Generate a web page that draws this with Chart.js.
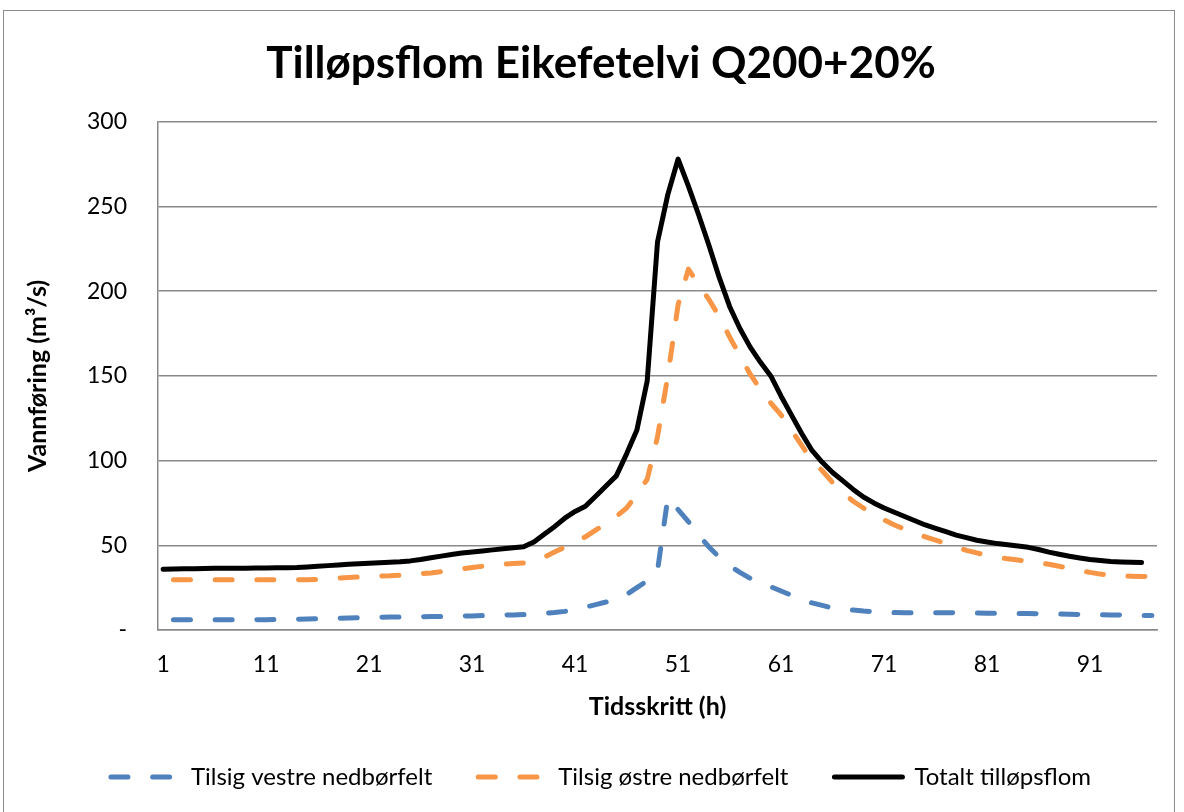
<!DOCTYPE html>
<html>
<head>
<meta charset="utf-8">
<script src="https://cdn.jsdelivr.net/npm/chart.js@4.4.1/dist/chart.umd.min.js"></script>
<style>
  html, body { margin: 0; padding: 0; background: #fff; overflow: hidden; }
  #frame { position: absolute; left: 3px; top: 10px; width: 1170px; height: 830px; border: 1.5px solid #8c8c8c; }
  #wrap { position: absolute; left: 0; top: 0; }
</style>
</head>
<body>
<div id="frame"></div>
<div id="wrap"><canvas id="flomChart" width="1184" height="799"></canvas></div>
<script>
// Tidsskritt (h)
const steps = [
  1, 2, 3, 4, 5, 6, 7, 8, 9, 10, 11, 12, 13, 14, 15, 16, 17, 18, 19, 20,
  21, 22, 23, 24, 25, 26, 27, 28, 29, 30, 31, 32, 33, 34, 35, 36, 37, 38, 39, 40,
  41, 42, 43, 44, 45, 46, 47, 48, 49, 50, 51, 52, 53, 54, 55, 56, 57, 58, 59, 60,
  61, 62, 63, 64, 65, 66, 67, 68, 69, 70, 71, 72, 73, 74, 75, 76, 77, 78, 79, 80,
  81, 82, 83, 84, 85, 86, 87, 88, 89, 90, 91, 92, 93, 94, 95, 96, 97
];

// Tilsig vestre nedbørfelt (m3/s)
const vestre = [
  null, 6.0, 6.0, 6.0, 6.0, 6.0, 6.0, 6.0, 6.0, 6.0,
  6.1, 6.2, 6.3, 6.4, 6.5, 6.6, 6.8, 6.9, 7.1, 7.2,
  7.4, 7.5, 7.7, 7.7, 7.8, 7.8, 7.9, 8.0, 8.1, 8.2,
  8.3, 8.5, 8.6, 8.8, 8.9, 9.1, 9.4, 9.8, 10.3, 11.0,
  12.0, 13.5, 15.0, 16.5, 18.5, 21, 25, 29, 35, 78,
  71, 64, 56, 49, 43, 38, 34, 30.5, 28, 25.5,
  23, 20.5, 18, 16, 14.5, 13, 12.3, 11.8, 11.2, 10.8,
  10.5, 10.3, 10.2, 10.2, 10.2, 10.2, 10.2, 10.1, 10.0, 10.0,
  9.9, 9.9, 9.8, 9.8, 9.7, 9.6, 9.5, 9.4, 9.3, 9.2,
  9.1, 9.0, 8.9, 8.8, 8.7, 8.6, 8.5
];

// Tilsig østre nedbørfelt (m3/s)
const ostre = [
  null, 29.6, 29.6, 29.6, 29.6, 29.6, 29.6, 29.6, 29.6, 29.6,
  29.6, 29.6, 29.6, 29.6, 29.7, 29.9, 30.2, 30.6, 31.0, 31.3,
  31.6, 31.8, 32.0, 32.4, 32.8, 33.2, 33.7, 34.5, 35.3, 36.1,
  36.9, 37.6, 38.2, 38.8, 39.3, 39.6, 40.5, 43, 46, 49,
  52, 55, 59, 63, 67, 72, 80, 89, 114, 150,
  192, 213, 204, 195, 185, 173, 162, 151, 142, 134,
  127, 118, 109, 100, 94, 87, 81, 76, 72, 68,
  65, 62, 59.5, 57, 55, 53, 51, 49, 47, 45.5,
  44, 43, 42, 41.3, 40.5, 39.7, 38.8, 37.6, 36.4, 35.2,
  34, 33, 32.3, 32.0, 31.8, 31.6, 31.5
];

// Totalt tilløpsflom (m3/s)
const totalt = [
  35.8, 36.0, 36.1, 36.2, 36.3, 36.4, 36.4, 36.5, 36.5, 36.6,
  36.6, 36.7, 36.8, 36.9, 37.2, 37.6, 38.0, 38.4, 38.8, 39.1,
  39.4, 39.7, 40.0, 40.3, 40.8, 41.6, 42.6, 43.6, 44.6, 45.4,
  46.1, 46.7, 47.3, 47.9, 48.5, 49.1, 52, 56.5, 61, 66,
  70, 73, 79, 85, 91, 104, 118, 147, 229, 257,
  278, 262, 245, 227, 208, 191, 178, 167, 158, 150,
  138, 127, 116, 106, 99, 93, 88, 83, 78.5, 75,
  72, 69.5, 67, 64.5, 62, 60, 58, 56, 54.5, 53,
  52, 51, 50.3, 49.6, 48.8, 47.5, 46, 44.7, 43.5, 42.5,
  41.6, 41, 40.5, 40.2, 40, 39.8, null
];

const yTicks = [0, 50, 100, 150, 200, 250, 300];

const GRID = '#898989';
const FONT = 'Lato, "Open Sans", sans-serif';
Chart.defaults.font.family = FONT;
Chart.defaults.color = '#000';

// legend samples keep the dashed line style of their dataset
const legendLabels = chart =>
  Chart.defaults.plugins.legend.labels.generateLabels(chart).map((it, i) => ({
    ...it,
    lineDash: chart.data.datasets[i].borderDash || [],
    lineCap: 'round',
  }));

new Chart(document.getElementById('flomChart'), {
  type: 'line',
  data: {
    labels: steps,
    datasets: [
      {
        label: 'Tilsig vestre nedbørfelt', data: vestre,
        borderColor: '#4F81BD', backgroundColor: '#4F81BD',
        borderWidth: 5, borderDash: [17, 24.7], borderCapStyle: 'round', borderJoinStyle: 'round',
        pointRadius: 0, tension: 0,
      },
      {
        label: 'Tilsig østre nedbørfelt', data: ostre,
        borderColor: '#F79646', backgroundColor: '#F79646',
        borderWidth: 5, borderDash: [17, 24.7], borderCapStyle: 'round', borderJoinStyle: 'round',
        pointRadius: 0, tension: 0,
      },
      {
        label: 'Totalt tilløpsflom', data: totalt,
        borderColor: '#000', backgroundColor: '#000',
        borderWidth: 5, borderCapStyle: 'round', borderJoinStyle: 'round',
        pointRadius: 0, tension: 0,
      },
    ],
  },
  options: {
    responsive: false,
    animation: false,
    devicePixelRatio: 1,
    layout: { padding: { left: 45, right: 27, top: 0, bottom: 0 } },
    plugins: {
      title: {
        display: true,
        text: 'Tilløpsflom Eikefetelvi Q200+20%',
        color: '#000',
        font: { size: 44, weight: 'bold' },
        padding: { top: 37, bottom: 32 },
      },
      legend: {
        position: 'bottom',
        labels: {
          color: '#000', font: { size: 24 }, padding: 46,
          usePointStyle: true, pointStyle: 'line', pointStyleWidth: 68,
          generateLabels: legendLabels,
        },
      },
      tooltip: { enabled: false },
    },
    scales: {
      x: {
        offset: true,
        grid: { display: false, drawTicks: false },
        border: { display: true, color: GRID, width: 1.5 },
        ticks: {
          autoSkip: false, maxRotation: 0, padding: 21, font: { size: 23 }, color: '#000',
          callback: (v, i) => (i % 10 === 0 ? steps[i] : ''),
        },
        title: {
          display: true, text: 'Tidsskritt (h)', color: '#000',
          font: { size: 25, weight: 'bold' }, padding: { top: 0, bottom: -3 },
        },
        afterFit: s => { s.height = 89; },
      },
      y: {
        min: 0, max: 300,
        afterBuildTicks: s => { s.ticks = yTicks.map(v => ({ value: v })); },
        grid: { color: GRID, lineWidth: 1.5, drawTicks: false },
        border: { display: true, color: GRID, width: 1.5 },
        ticks: {
          padding: 31, font: { size: 23 }, color: '#000',
          callback: v => (v === 0 ? '-' : v),
        },
        title: {
          display: true, text: 'Vannføring (m³/s)', color: '#000',
          font: { size: 25, weight: 'bold' }, padding: { top: -22, bottom: 0 },
        },
        afterFit: s => { s.width = 113; },
      },
    },
  },
});
</script>
</body>
</html>
